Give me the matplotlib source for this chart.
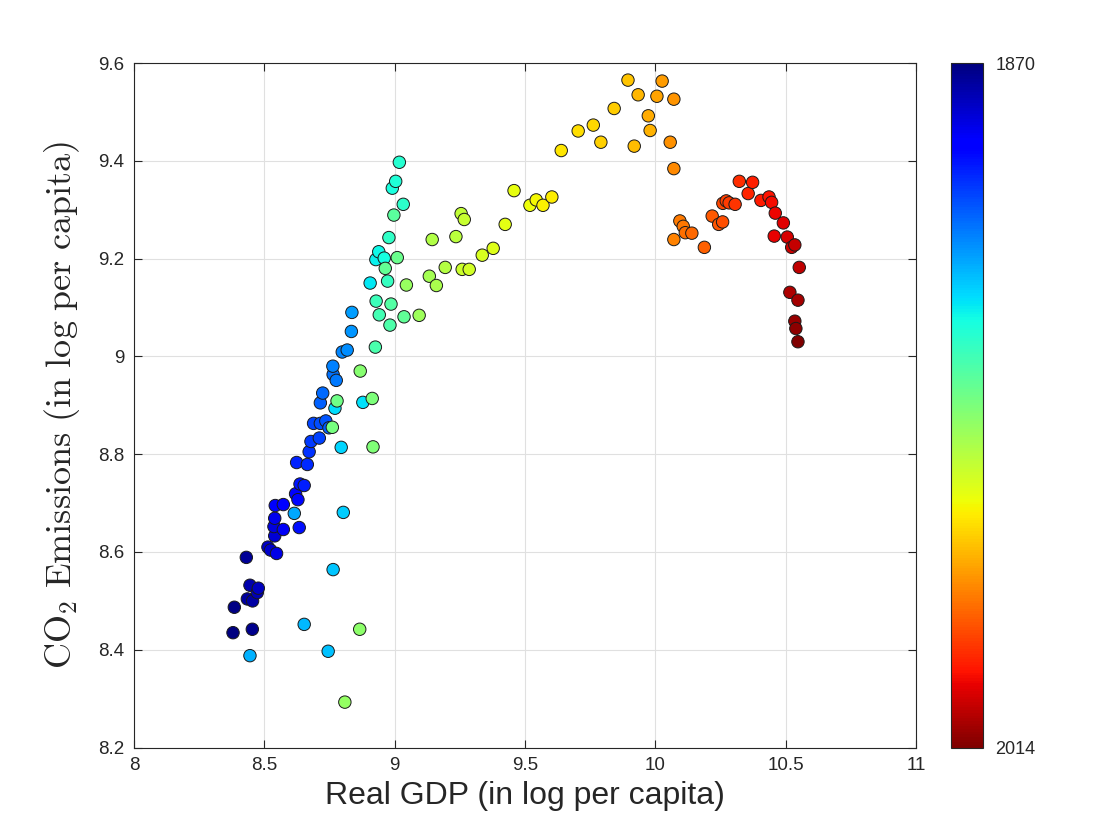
import matplotlib
matplotlib.use('Agg')
import matplotlib.pyplot as plt

year = [1870, 1871, 1872, 1873, 1874, 1875, 1876, 1877, 1878, 1879,
        1880, 1881, 1882, 1883, 1884, 1885, 1886, 1887, 1888, 1889,
        1890, 1891, 1892, 1893, 1894, 1895, 1896, 1897, 1898, 1899,
        1900, 1901, 1902, 1903, 1904, 1905, 1906, 1907, 1908, 1909, 1910,
        1912, 1913, 1914, 1915, 1916, 1917, 1918, 1919, 1920, 1921,
        1922, 1923, 1924, 1925, 1926, 1927, 1928, 1929, 1930,
        1931, 1932, 1933, 1934, 1935, 1936, 1937, 1938, 1939, 1940,
        1941, 1942, 1943, 1944, 1945, 1946, 1947, 1948,
        1949, 1950, 1951, 1952, 1953, 1954, 1955, 1956, 1957,
        1958, 1959, 1960, 1961, 1962, 1963, 1964, 1965,
        1966, 1967, 1968, 1969, 1970, 1971, 1972, 1973, 1974, 1975,
        1976, 1977, 1978, 1979, 1980,
        1981, 1982, 1983, 1984, 1985, 1986, 1987, 1988, 1989, 1990,
        1991, 1992, 1993, 1994, 1995, 1996, 1997, 1998, 1999, 2000,
        2001, 2002, 2003,
        2004, 2005, 2006, 2008, 2009, 2011, 2012, 2014]

gdp = [8.380, 8.385, 8.454, 8.431, 8.435, 8.455, 8.445, 8.473, 8.477, 8.514,
       8.524, 8.540, 8.537, 8.547, 8.540, 8.573, 8.542, 8.573, 8.620, 8.629,
       8.634, 8.637, 8.653, 8.624, 8.665, 8.672, 8.679, 8.711, 8.689, 8.715,
       8.736, 8.748, 8.715, 8.724, 8.764, 8.776, 8.763, 8.799, 8.818, 8.834, 8.836,
       8.615, 8.445, 8.653, 8.745, 8.764, 8.803, 8.795, 8.771, 8.878, 8.906,
       8.928, 8.939, 8.960, 8.991, 9.004, 9.018, 9.033, 8.978, 8.973,
       8.929, 8.941, 8.926, 8.982, 8.986, 8.997, 9.036, 8.964, 9.010, 8.779,
       8.761, 8.914, 8.917, 8.868, 8.866, 8.809, 9.045, 9.094,
       9.133, 9.160, 9.144, 9.194, 9.235, 9.255, 9.267, 9.259, 9.286,
       9.336, 9.378, 9.424, 9.458, 9.519, 9.543, 9.569, 9.603,
       9.639, 9.704, 9.762, 9.791, 9.842, 9.895, 9.919, 9.934, 9.980, 9.973,
       10.006, 10.026, 10.071, 10.057, 10.071,
       10.071, 10.094, 10.107, 10.115, 10.140, 10.188, 10.218, 10.243, 10.258, 10.259,
       10.272, 10.283, 10.306, 10.322, 10.356, 10.373, 10.405, 10.436, 10.446, 10.460,
       10.456, 10.491, 10.506,
       10.523, 10.535, 10.552, 10.516, 10.547, 10.535, 10.539, 10.547]

co2 = [8.435, 8.487, 8.442, 8.589, 8.504, 8.500, 8.532, 8.517, 8.526, 8.610,
       8.604, 8.633, 8.652, 8.597, 8.669, 8.646, 8.695, 8.697, 8.719, 8.707,
       8.650, 8.739, 8.736, 8.783, 8.779, 8.805, 8.826, 8.833, 8.863, 8.863,
       8.868, 8.854, 8.905, 8.925, 8.963, 8.951, 8.980, 9.009, 9.013, 9.051, 9.090,
       8.679, 8.388, 8.452, 8.397, 8.564, 8.681, 8.814, 8.894, 8.906, 9.150,
       9.198, 9.214, 9.201, 9.344, 9.358, 9.397, 9.311, 9.243, 9.154,
       9.113, 9.085, 9.019, 9.064, 9.107, 9.289, 9.081, 9.180, 9.202, 8.909,
       8.855, 8.914, 8.815, 8.970, 8.442, 8.293, 9.146, 9.084,
       9.164, 9.145, 9.239, 9.182, 9.245, 9.292, 9.280, 9.178, 9.178,
       9.207, 9.221, 9.270, 9.339, 9.309, 9.320, 9.309, 9.326,
       9.421, 9.461, 9.473, 9.438, 9.507, 9.565, 9.430, 9.535, 9.462, 9.492,
       9.532, 9.563, 9.526, 9.438, 9.384,
       9.239, 9.277, 9.266, 9.253, 9.252, 9.223, 9.287, 9.270, 9.275, 9.313,
       9.318, 9.314, 9.311, 9.358, 9.333, 9.356, 9.319, 9.326, 9.315, 9.293,
       9.246, 9.273, 9.244,
       9.223, 9.228, 9.182, 9.131, 9.115, 9.072, 9.057, 9.030]

xticks = [8, 8.5, 9, 9.5, 10, 10.5, 11]
xticklabels = ['8', '8.5', '9', '9.5', '10', '10.5', '11']
yticks = [8.2, 8.4, 8.6, 8.8, 9.0, 9.2, 9.4, 9.6]
yticklabels = ['8.2', '8.4', '8.6', '8.8', '9', '9.2', '9.4', '9.6']
cbar_ticks = [1870, 2014]

plt.rcParams['font.family'] = ['Liberation Sans', 'DejaVu Sans']
plt.rcParams['mathtext.fontset'] = 'cm'

dark = '#262626'
fig = plt.figure(figsize=(11.2, 8.4), dpi=100)
ax = fig.add_axes([0.1196, 0.11, 0.6983, 0.815])
cax = fig.add_axes([0.849, 0.11, 0.0286, 0.815])

ax.grid(True, color='#e0e0e0', lw=0.8)
ax.set_axisbelow(True)
sc = ax.scatter(gdp, co2, c=year, cmap='jet', vmin=1870, vmax=2014, s=80,
                edgecolors='#1a1a1a', linewidths=0.7, zorder=3)
ax.set_xlim(8, 11)
ax.set_ylim(8.2, 9.6)
ax.set_xticks(xticks)
ax.set_xticklabels(xticklabels)
ax.set_yticks(yticks)
ax.set_yticklabels(yticklabels)
ax.tick_params(direction='in', top=True, right=True, length=6, width=0.8,
               labelsize=13.5, colors=dark, pad=7)
for s in ax.spines.values():
    s.set_color(dark)
    s.set_linewidth(0.8)

ax.set_xlabel('Real GDP (in log per capita)', fontsize=23, color=dark, labelpad=5)
ax.set_ylabel(r'$\mathrm{CO_2\ Emissions\ (in\ log\ per\ capita)}$', fontsize=26,
              color=dark)
ax.yaxis.set_label_coords(-0.066, 0.5)

cb = fig.colorbar(sc, cax=cax, ticks=cbar_ticks)
cax.invert_yaxis()
cb.ax.tick_params(length=0, labelsize=13, colors=dark, pad=9)
cb.outline.set_edgecolor(dark)
cb.outline.set_linewidth(0.8)

fig.savefig('out.png', dpi=100, facecolor='white')
